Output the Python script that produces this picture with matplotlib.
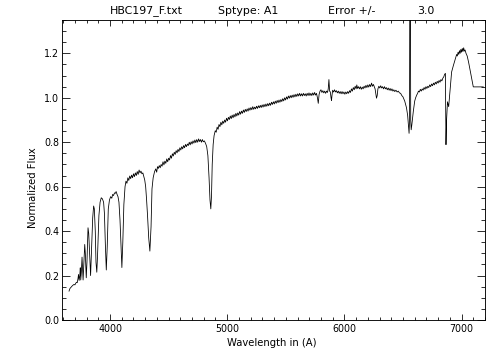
import matplotlib
matplotlib.use("Agg")
import matplotlib.pyplot as plt
from matplotlib.ticker import MultipleLocator, FormatStrFormatter

# Spectrum (wavelength in Angstrom, normalized flux)
wavelength = [
    3650, 3658, 3668, 3680, 3692, 3700, 3708, 3714, 3720, 3726, 3731, 3736, 3742, 3746,
    3750, 3755, 3761, 3766, 3770, 3775, 3784, 3789, 3797, 3803, 3812, 3818, 3826, 3834,
    3842, 3852, 3860, 3866, 3874, 3880, 3887, 3894, 3905, 3915, 3925, 3935, 3945, 3952,
    3960, 3968, 3976, 3985, 3995, 4005, 4015, 4022, 4030, 4038, 4045, 4052, 4060, 4068,
    4076, 4085, 4093, 4101, 4109, 4118,
    4128, 4136, 4144, 4152, 4160, 4168, 4176, 4184, 4192, 4200, 4208, 4216, 4224, 4232,
    4240, 4248, 4256, 4264, 4272, 4280, 4288, 4296, 4304, 4312, 4320, 4330, 4340,
    4350, 4358, 4368,
    4380, 4390, 4398, 4405, 4412, 4420, 4428, 4436, 4444, 4452, 4460, 4468, 4476, 4484,
    4492, 4500, 4508, 4516, 4524, 4532, 4540, 4548, 4556, 4564, 4572, 4580, 4588, 4596,
    4604, 4612, 4620, 4628, 4636, 4644, 4652, 4660, 4668, 4676, 4684, 4692, 4700, 4708,
    4716, 4724, 4732, 4740, 4748, 4756, 4764, 4772, 4780, 4788, 4796, 4805, 4815, 4825,
    4835, 4845, 4853, 4860, 4866, 4872, 4880,
    4888, 4898, 4906, 4914, 4922, 4930, 4938, 4946, 4954, 4962, 4970, 4978, 4986, 4994,
    5002, 5010, 5018, 5026, 5034, 5042, 5050, 5058, 5066, 5074, 5082, 5090, 5098, 5106,
    5114, 5122, 5130, 5138, 5146, 5154, 5162, 5170, 5178, 5186, 5194, 5202, 5210, 5218,
    5226, 5234, 5242, 5250, 5258, 5266, 5274, 5282, 5290, 5298, 5306, 5314, 5322, 5330,
    5338, 5346, 5354, 5362, 5370, 5378, 5386, 5394, 5402, 5410, 5418, 5426, 5434, 5442,
    5450, 5458, 5466, 5474, 5482, 5490, 5498, 5506, 5514, 5522, 5530, 5538, 5546, 5554,
    5562, 5570, 5578, 5586, 5594, 5602, 5610, 5618, 5626, 5634, 5642, 5650, 5658, 5666,
    5674, 5682, 5690, 5698, 5706, 5714, 5722, 5730, 5738, 5746, 5754, 5762, 5770, 5777,
    5784, 5792, 5800, 5808, 5816, 5824, 5832, 5840, 5848, 5856, 5862, 5868, 5874, 5880,
    5886, 5890, 5894, 5900, 5908, 5916, 5924, 5932, 5940, 5948, 5956, 5964, 5972, 5980,
    5988, 5996, 6004, 6012, 6020, 6028, 6036, 6044, 6052, 6060, 6068, 6076, 6084, 6092,
    6100, 6106, 6112, 6120, 6128, 6136, 6144, 6152, 6160, 6168, 6176, 6184, 6192, 6200,
    6208, 6216, 6224, 6232, 6240, 6248, 6256, 6262, 6268, 6274, 6280, 6286, 6294, 6302,
    6310, 6318, 6326, 6334, 6342, 6350, 6358, 6366, 6374, 6382, 6390, 6398, 6406, 6414,
    6422, 6430, 6440, 6450, 6460, 6470, 6480, 6490, 6500, 6515, 6530, 6540, 6547, 6552,
    6556, 6559, 6562, 6566, 6570, 6576, 6588,
    6600, 6608, 6617, 6625, 6632, 6640, 6648, 6656, 6664, 6672, 6680, 6688, 6696, 6704,
    6712, 6720, 6728, 6736, 6744, 6752, 6760, 6768, 6776, 6784, 6792, 6800, 6808, 6816,
    6824, 6832, 6840, 6848, 6855, 6862, 6867, 6872, 6880, 6890, 6901, 6915, 6930,
    6943, 6950, 6958, 6964, 6970, 6976, 6982, 6988, 6994, 7000, 7006, 7012, 7018, 7024,
    7030, 7038, 7048, 7060, 7071, 7085, 7100, 7185,
]
flux = [
    0.130, 0.142, 0.148, 0.155, 0.160, 0.158, 0.166, 0.170, 0.168, 0.185, 0.205, 0.178, 0.200, 0.235,
    0.180, 0.215, 0.283, 0.230, 0.180, 0.235, 0.340, 0.300, 0.190, 0.260, 0.415, 0.390, 0.290, 0.200,
    0.320, 0.460, 0.513, 0.500, 0.400, 0.260, 0.215, 0.300, 0.470, 0.530, 0.550, 0.545, 0.530, 0.480,
    0.340, 0.225, 0.330, 0.500, 0.540, 0.555, 0.548, 0.565, 0.560, 0.572, 0.570, 0.578, 0.565, 0.555,
    0.530, 0.450, 0.340, 0.236, 0.350, 0.520,
    0.600, 0.625, 0.615, 0.640, 0.628, 0.648, 0.636, 0.652, 0.640, 0.658, 0.645, 0.662, 0.650, 0.668,
    0.655, 0.675, 0.662, 0.670, 0.658, 0.662, 0.645, 0.630, 0.600, 0.540, 0.470, 0.370, 0.310,
    0.420, 0.590, 0.640,
    0.668, 0.680, 0.665, 0.690, 0.682, 0.695, 0.685, 0.700, 0.692, 0.712, 0.698, 0.715, 0.705, 0.725,
    0.712, 0.728, 0.720, 0.740, 0.728, 0.748, 0.738, 0.755, 0.745, 0.762, 0.752, 0.768, 0.758, 0.775,
    0.765, 0.780, 0.770, 0.785, 0.775, 0.790, 0.780, 0.792, 0.785, 0.800, 0.788, 0.802, 0.792, 0.806,
    0.796, 0.810, 0.798, 0.812, 0.800, 0.815, 0.803, 0.812, 0.800, 0.812, 0.802, 0.806, 0.795, 0.780,
    0.740, 0.640, 0.540, 0.500, 0.560, 0.700, 0.790,
    0.830, 0.852, 0.845, 0.868, 0.858, 0.880, 0.870, 0.890, 0.878, 0.895, 0.885, 0.900, 0.890, 0.908,
    0.896, 0.912, 0.902, 0.918, 0.906, 0.922, 0.910, 0.925, 0.914, 0.930, 0.918, 0.932, 0.922, 0.938,
    0.926, 0.940, 0.930, 0.945, 0.934, 0.948, 0.938, 0.950, 0.940, 0.954, 0.944, 0.956, 0.946, 0.960,
    0.948, 0.958, 0.950, 0.962, 0.952, 0.964, 0.955, 0.966, 0.956, 0.968, 0.958, 0.970, 0.960, 0.972,
    0.962, 0.974, 0.964, 0.976, 0.966, 0.980, 0.970, 0.982, 0.972, 0.985, 0.975, 0.988, 0.978, 0.990,
    0.980, 0.992, 0.983, 0.996, 0.986, 1.000, 0.990, 1.004, 0.994, 1.008, 0.998, 1.010, 1.000, 1.012,
    1.002, 1.014, 1.004, 1.016, 1.006, 1.018, 1.008, 1.020, 1.008, 1.018, 1.008, 1.020, 1.010, 1.018,
    1.008, 1.020, 1.010, 1.022, 1.010, 1.020, 1.010, 1.022, 1.012, 1.024, 1.012, 1.020, 1.000, 0.975,
    1.015, 1.030, 1.036, 1.024, 1.032, 1.022, 1.030, 1.020, 1.030, 1.024, 1.040, 1.082, 1.030, 1.026,
    1.000, 0.988, 1.010, 1.034, 1.026, 1.036, 1.026, 1.032, 1.022, 1.030, 1.020, 1.028, 1.018, 1.028,
    1.018, 1.026, 1.016, 1.026, 1.018, 1.028, 1.020, 1.032, 1.024, 1.040, 1.030, 1.046, 1.036, 1.052,
    1.040, 1.058, 1.042, 1.050, 1.040, 1.050, 1.038, 1.048, 1.040, 1.052, 1.044, 1.056, 1.046, 1.058,
    1.048, 1.060, 1.050, 1.066, 1.052, 1.060, 1.048, 1.040, 1.020, 0.998, 1.010, 1.040, 1.052, 1.044,
    1.054, 1.044, 1.050, 1.040, 1.050, 1.040, 1.046, 1.036, 1.044, 1.034, 1.042, 1.032, 1.040, 1.030,
    1.036, 1.028, 1.034, 1.026, 1.030, 1.022, 1.020, 1.010, 1.004, 0.985, 0.955, 0.920, 0.870, 0.840,
    0.900, 1.800, 1.800, 0.900, 0.856, 0.880, 0.938,
    0.985, 1.000, 1.012, 1.020, 1.030, 1.026, 1.038, 1.030, 1.040, 1.034, 1.046, 1.038, 1.050, 1.042,
    1.052, 1.046, 1.058, 1.050, 1.062, 1.054, 1.066, 1.058, 1.070, 1.062, 1.074, 1.066, 1.078, 1.070,
    1.082, 1.076, 1.088, 1.094, 1.105, 1.110, 0.789, 0.900, 0.982, 0.960, 1.027, 1.116, 1.145,
    1.168, 1.180, 1.195, 1.188, 1.205, 1.195, 1.212, 1.200, 1.218, 1.205, 1.222, 1.208, 1.225, 1.210,
    1.215, 1.200, 1.188, 1.160, 1.130, 1.090, 1.049, 1.049,
]

title_parts = ["HBC197_F.txt", "Sptype: A1", "Error +/-", "3.0"]
title_x_px = [110, 218, 328, 417]
x_label = "Wavelength in (A)"
y_label = "Normalized Flux"

W, H = 504, 360
fig = plt.figure(figsize=(W / 72, H / 72), dpi=72)
ax = fig.add_axes([62 / W, 40 / H, 423 / W, 300 / H])
ax.plot(wavelength, flux, color="black", lw=0.8)
ax.set_xlim(3590, 7200)
ax.set_ylim(0, 1.35)

ax.xaxis.set_major_locator(MultipleLocator(1000))
ax.xaxis.set_minor_locator(MultipleLocator(100))
ax.yaxis.set_major_locator(MultipleLocator(0.2))
ax.yaxis.set_minor_locator(MultipleLocator(0.05))
ax.yaxis.set_major_formatter(FormatStrFormatter("%.1f"))
ax.tick_params(which="both", direction="in", top=True, right=True,
               labelsize=9.5, width=0.8, colors="black")
ax.tick_params(axis="x", which="major", length=6, pad=4)
ax.tick_params(axis="x", which="minor", length=3)
ax.tick_params(axis="y", which="major", length=8, pad=3)
ax.tick_params(axis="y", which="minor", length=4)
for s in ax.spines.values():
    s.set_linewidth(0.9)

for t, xp in zip(title_parts, title_x_px):
    fig.text(xp / W, 1 - 11 / H, t, ha="left", va="center", fontsize=11)
fig.text(272 / W, 1 - 343 / H, x_label, ha="center", va="center", fontsize=10)
fig.text(33 / W, 1 - 188 / H, y_label, ha="center", va="center", rotation=90, fontsize=10)

fig.savefig("out.png", dpi=72)
